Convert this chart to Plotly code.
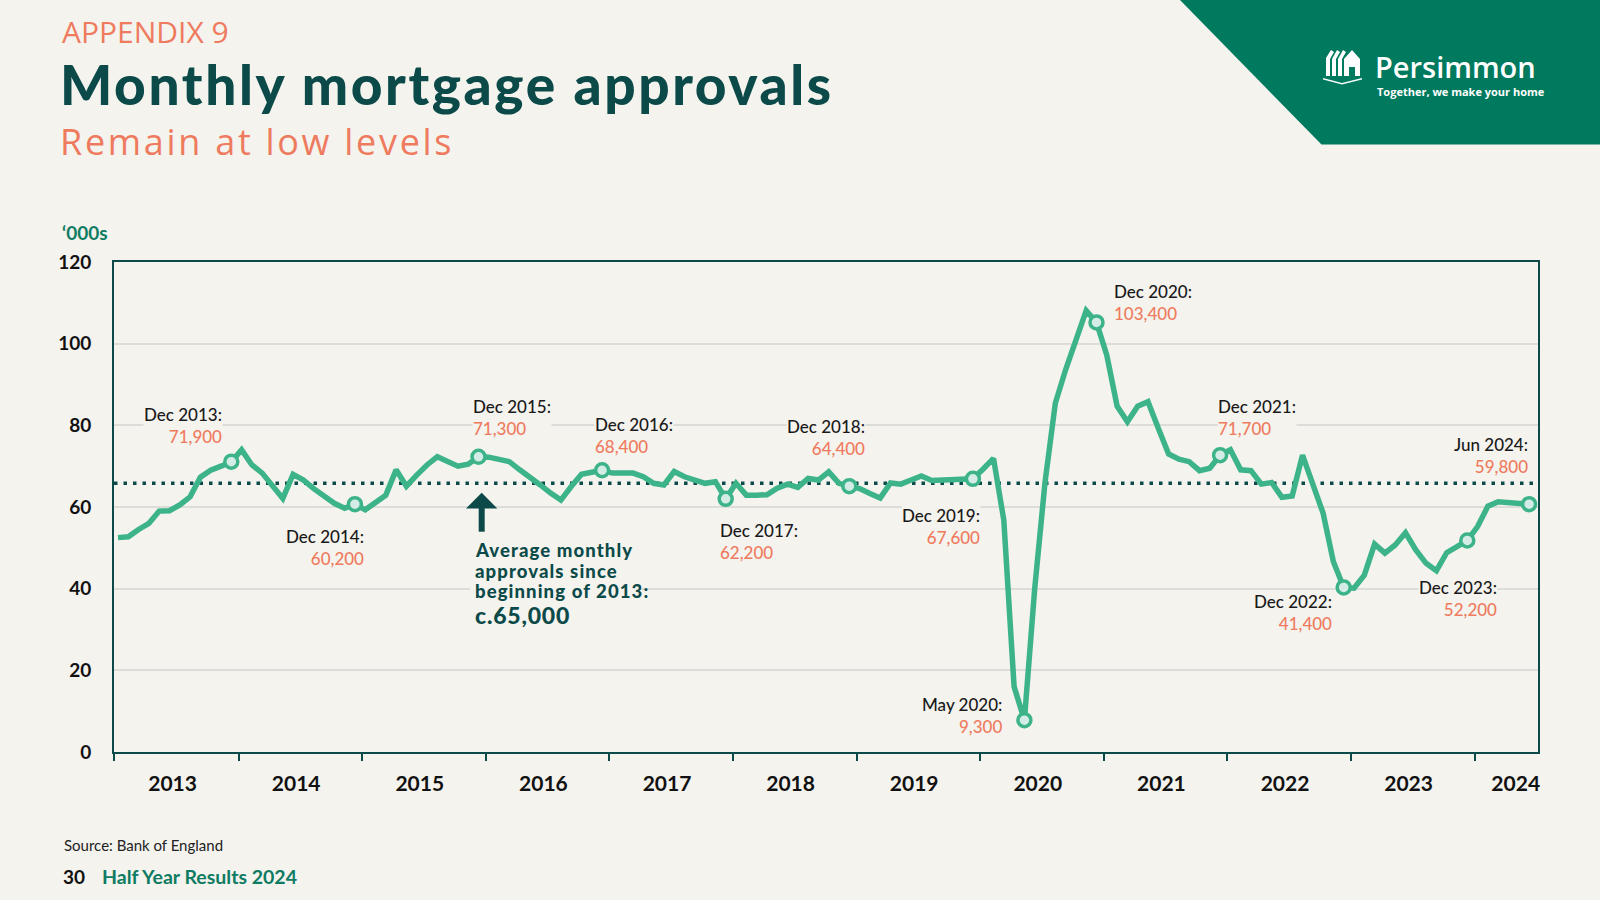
import plotly.graph_objects as go
import pandas as pd

# ---------------- data ----------------
MONTHS = [d.strftime("%b %Y") for d in pd.date_range("2013-01-01", "2024-06-01", freq="MS")]

APPROVALS_2013 = [52.5, 52.7, 54.5, 56.0, 59.0, 59.1, 60.5, 62.5, 67.3, 69.0, 70.0, 71.1]
APPROVALS_2014 = [74.0, 70.3, 68.3, 65.3, 62.1, 68.0, 66.6, 64.5, 62.5, 60.9, 59.7, 60.7]
APPROVALS_2015 = [59.3, 61.3, 62.9, 69.1, 65.1, 67.8, 70.3, 72.3, 71.1, 70.0, 70.5, 72.3]
APPROVALS_2016 = [72.2, 71.8, 71.1, 69.1, 67.4, 65.4, 63.4, 61.7, 65.0, 68.0, 68.5, 69.0]
APPROVALS_2017 = [68.3, 68.3, 68.3, 67.4, 65.8, 65.4, 68.7, 67.4, 66.6, 65.8, 66.2, 62.0]
APPROVALS_2018 = [65.8, 62.9, 62.9, 63.0, 64.6, 65.6, 64.8, 67.0, 66.6, 68.6, 65.8, 65.1]
APPROVALS_2019 = [64.5, 63.3, 62.2, 65.9, 65.6, 66.6, 67.6, 66.5, 66.6, 66.7, 66.8, 66.9]
APPROVALS_2020 = [69.3, 71.9, 56.8, 16.0, 7.8, 40.0, 66.0, 85.4, 93.6, 101.3, 108.1, 105.2]
APPROVALS_2021 = [97.2, 84.7, 80.9, 84.7, 85.8, 79.3, 73.0, 71.7, 71.1, 68.9, 69.5, 72.7]
APPROVALS_2022 = [74.0, 69.1, 68.9, 65.6, 66.0, 62.4, 62.7, 72.7, 65.6, 58.5, 46.6, 40.3]
APPROVALS_2023 = [40.1, 43.3, 50.9, 48.7, 50.7, 53.7, 49.5, 46.2, 44.4, 48.8, 50.3, 51.8]
APPROVALS_2024 = [55.2, 60.2, 61.3, 61.0, 60.9, 60.7]

APPROVALS = (APPROVALS_2013 + APPROVALS_2014 + APPROVALS_2015 + APPROVALS_2016 +
             APPROVALS_2017 + APPROVALS_2018 + APPROVALS_2019 + APPROVALS_2020 +
             APPROVALS_2021 + APPROVALS_2022 + APPROVALS_2023 + APPROVALS_2024)

AVERAGE = 65.8

HIGHLIGHT_MONTHS = ["Dec 2013", "Dec 2014", "Dec 2015", "Dec 2016", "Dec 2017", "Dec 2018",
                    "Dec 2019", "May 2020", "Dec 2020", "Dec 2021", "Dec 2022", "Dec 2023", "Jun 2024"]
HIGHLIGHT_VALUES = ["71,900", "60,200", "71,300", "68,400", "62,200", "64,400",
                    "67,600", "9,300", "103,400", "71,700", "41,400", "52,200", "59,800"]

YEARS = ["2013", "2014", "2015", "2016", "2017", "2018", "2019", "2020", "2021", "2022", "2023", "2024"]
Y_TICKS = [0, 20, 40, 60, 80, 100, 120]

AVG_TEXT_LINES = ["Average monthly", "approvals since", "beginning of 2013:"]
AVG_TEXT_VALUE = "c.65,000"

# ---------------- styles / layout ----------------
BG = "#F4F3EE"
DARK = "#0B4A49"
SALMON = "#EF7B5F"
LINE = "#3DB38A"
MFILL = "#D4ECE6"
GREEN = "#0E7B62"
LOGO_BG = "#007A5E"
GRID = "#DCDCD8"
FONT = "Lato"
WIDE = "Open Sans"

W, H = 1600, 900
PL, PR, PT, PB = 114, 1538, 262, 752  # plot area in pixels
X0_PX, DX_PX = 118, 10.30             # pixel of first month, pixels per month


def px_x(x):
    return (x - PL) / (PR - PL)


def px_y(y):
    return (PB - y) / (PB - PT)


x_idx = list(range(len(MONTHS)))
x_range = [(PL - X0_PX) / DX_PX, (PR - X0_PX) / DX_PX]
year_label_pos = [5.3 + 12 * k for k in range(11)] + [135.7]
year_tick_pos = [x_range[0]] + [11.7 + 12 * k for k in range(11)]

hi_idx = [MONTHS.index(m) for m in HIGHLIGHT_MONTHS]

fig = go.Figure()
fig.add_trace(go.Scatter(
    x=x_idx, y=APPROVALS, mode="lines", text=MONTHS,
    line=dict(color=LINE, width=5.5), hovertemplate="%{text}: %{y}<extra></extra>"))
fig.add_trace(go.Scatter(
    x=[x_idx[i] for i in hi_idx], y=[APPROVALS[i] for i in hi_idx], mode="markers",
    marker=dict(size=13, color=MFILL, line=dict(color=LINE, width=3.5)),
    hoverinfo="skip"))

shapes = []
shapes.append(dict(type="line", xref="paper", x0=0, x1=1, yref="y", y0=AVERAGE, y1=AVERAGE,
                   line=dict(color=DARK, width=3.5, dash="3.5px,6px"), layer="below"))


def path(points):
    return "M " + " L ".join(f"{px_x(x):.5f},{px_y(y):.5f}" for x, y in points) + " Z"


def poly(points, color):
    shapes.append(dict(type="path", xref="paper", yref="paper", path=path(points),
                       fillcolor=color, line=dict(width=0), layer="above"))


# background patch behind the average text (hides gridline)
poly([(470, 538), (642, 538), (642, 627), (470, 627)], BG)
# arrow
poly([(481.7, 492.7), (497.3, 508.5), (466.0, 508.5)], DARK)
poly([(478.7, 507.0), (484.7, 507.0), (484.7, 531.7), (478.7, 531.7)], DARK)

# logo block and icon
poly([(1180, 0), (1600, 0), (1600, 144.5), (1321.5, 144.5)], LOGO_BG)
WHITE = "#FFFFFF"
poly([(1326, 58), (1331, 50), (1334, 52), (1330, 59), (1330, 76), (1326, 76)], WHITE)
poly([(1332, 59), (1337, 50), (1340, 52), (1336, 59), (1336, 76), (1332, 76)], WHITE)
poly([(1338, 59), (1343, 50), (1346, 52), (1342, 59), (1342, 76), (1338, 76)], WHITE)
poly([(1344, 59), (1352, 50), (1360, 59), (1360, 76), (1355, 76), (1355, 67),
      (1349, 67), (1349, 76), (1344, 76)], WHITE)
poly([(1323, 78), (1342, 83), (1362, 78), (1362, 79.5), (1342, 84.5), (1323, 79.5)], WHITE)

annotations = []


def text_at(x, y, text, size, color, xanchor="left", weight=400, family=FONT, bg=None, align=None):
    d = dict(x=px_x(x), y=px_y(y), xref="paper", yref="paper", text=text, showarrow=False,
             xanchor=xanchor, yanchor="middle", align=align or xanchor,
             font=dict(family=family, size=size, color=color, weight=weight), borderpad=0)
    if bg:
        d["bgcolor"] = bg
    annotations.append(d)


def spaced(s, px):
    return f"<span style='letter-spacing:{px}px'>{s}</span>"


# header
text_at(61, 32, "APPENDIX 9", 30, SALMON, family=WIDE)
text_at(59, 84, spaced("Monthly mortgage approvals", 2.6), 55, DARK, weight=900)
text_at(59, 142, spaced("Remain at low levels", 2.7), 36, SALMON, family=WIDE)
text_at(1374, 66, "Persimmon", 29, "#FFFFFF", weight=600, family=WIDE)
text_at(1376, 91, "Together, we make your home", 11, "#FFFFFF", weight=700, family=WIDE)
text_at(61, 233, "‘000s", 19, GREEN, weight=700)

# footer
text_at(63, 845, "Source: Bank of England", 15, "#222222")
text_at(62, 876, "30", 19, "#111111", weight=700)
text_at(101, 876, "Half Year Results 2024", 19.5, GREEN, weight=700)

LABEL_POS = {
    "Dec 2013": (223.3, 425.8, "right"),
    "Dec 2014": (365.0, 547.8, "right"),
    "Dec 2015": (471.7, 417.0, "left"),
    "Dec 2016": (594.3, 435.0, "left"),
    "Dec 2017": (719.3, 541.7, "left"),
    "Dec 2018": (865.7, 437.7, "right"),
    "Dec 2019": (980.7, 526.3, "right"),
    "May 2020": (1003.3, 715.8, "right"),
    "Dec 2020": (1113.3, 302.7, "left"),
    "Dec 2021": (1216.7, 417.0, "left"),
    "Dec 2022": (1332.7, 612.5, "right"),
    "Dec 2023": (1497.7, 598.5, "right"),
    "Jun 2024": (1529.3, 455.8, "right"),
}
for m, v in zip(HIGHLIGHT_MONTHS, HIGHLIGHT_VALUES):
    x, y, anc = LABEL_POS[m]
    text_at(x, y, f"{m}:<br><span style='color:{SALMON}'>{v}</span>", 17, "#1A1A1A",
            xanchor=anc, weight=500, bg=BG)

# average annotation, one line at a time
for line_text, y in zip(AVG_TEXT_LINES, [549.5, 570.5, 591.3]):
    text_at(474, y, spaced(line_text, 1.1), 18.5, DARK, weight=900)
text_at(474, 614.5, spaced(AVG_TEXT_VALUE, 0.8), 23, DARK, weight=900)

fig.update_layout(
    width=W, height=H,
    margin=dict(l=PL, r=W - PR, t=PT, b=H - PB, pad=0),
    paper_bgcolor=BG, plot_bgcolor=BG,
    showlegend=False,
    shapes=shapes, annotations=annotations,
    font=dict(family=FONT),
)
fig.update_xaxes(
    range=x_range, showgrid=False, zeroline=False,
    showline=True, mirror=True, linecolor=DARK, linewidth=2,
    tickmode="array", tickvals=year_label_pos, ticktext=YEARS, ticks="",
    ticklabelstandoff=12,
    tickfont=dict(family=FONT, size=21, color="#111111", weight=700),
    minor=dict(tickmode="array", tickvals=year_tick_pos, ticks="outside", ticklen=7,
               tickwidth=2, tickcolor=DARK, showgrid=False),
)
fig.update_yaxes(
    range=[0, 120], tickmode="array", tickvals=Y_TICKS, ticks="",
    showgrid=True, gridcolor=GRID, gridwidth=1.5, zeroline=False,
    showline=True, mirror=True, linecolor=DARK, linewidth=2,
    ticklabelstandoff=17,
    tickfont=dict(family=FONT, size=19, color="#111111", weight=700),
)

fig.write_html(
    "out.html",
    config={"displayModeBar": False},
    post_script="document.body.style.margin='0';document.body.style.overflow='hidden';"
                "document.body.style.background='" + BG + "';",
)
